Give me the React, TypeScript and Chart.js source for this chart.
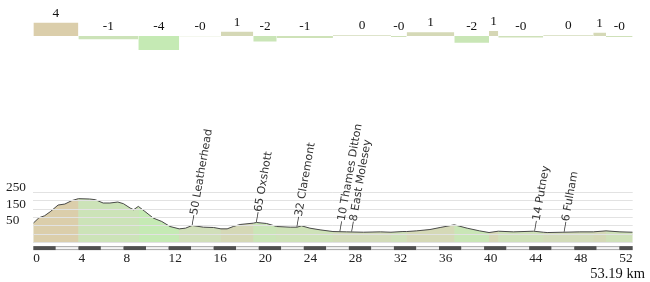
import React, { useEffect, useRef } from "react";
import { Chart, registerables } from "chart.js";

Chart.register(...registerables);

const totalKm = 53.19;

const elevKm = [
  0, 0.5, 1.0, 1.5, 2.2, 2.8, 3.4, 4.0, 5.0, 5.5, 6.2, 6.8, 7.5, 8.0, 8.6, 8.9,
  9.32, 9.9, 10.65, 11.4, 12.13, 12.95, 13.5, 14.1, 15.1, 16.0, 16.65, 17.2,
  17.75, 18.35, 19.52, 19.8, 20.7, 21.6, 22.8, 23.4, 23.8, 24.55, 25.45, 26.59,
  27.8, 29.3, 30.8, 31.74, 32.8, 33.13, 34.0, 35.2, 36.1, 37.36, 38.5, 39.6,
  40.44, 41.26, 42.6, 44.4, 45.25, 45.6, 47.0, 48.5, 49.69, 50.82, 52.06, 53.19,
];
const elevM = [
  66, 98, 110, 134, 174, 180, 200, 212, 210, 206, 186, 186, 192, 182, 156, 146,
  166, 136, 96, 76, 46, 32, 36, 52, 42, 40, 32, 32,
  46, 58, 66, 70, 64, 46, 42, 42, 50, 36, 26, 16,
  14, 12, 14, 12, 16, 16, 20, 28, 40, 56, 36, 20,
  10, 18, 14, 18, 12, 10, 12, 14, 14, 20, 14, 12,
];

const gradeStartKm = [0, 4.0, 9.32, 12.95, 16.65, 19.52, 21.6, 26.59, 31.74, 33.13, 37.36, 40.44, 41.26, 45.25, 49.69, 50.82];
const gradeValues = [3.8, -0.95, -4.0, -0.1, 1.2, -1.6, -0.6, 0.2, -0.3, 1.05, -1.9, 1.4, -0.4, 0.2, 0.95, -0.3];

const xTickValues = [0, 4, 8, 12, 16, 20, 24, 28, 32, 36, 40, 44, 48, 52];
const yGridValues = [-50, 0, 50, 100, 150, 200, 250];
const yLabelValues = [50, 150, 250];

const markerKm = [14.1, 19.8, 23.4, 27.2, 28.25, 44.5, 47.1];
const markerElev = [50, 65, 32, 10, 8, 14, 6];
const markerName = ["Leatherhead", "Oxshott", "Claremont", "Thames Ditton", "East Molesey", "Putney", "Fulham"];

const SERIF = '"Liberation Serif", "Times New Roman", serif';

function gradeColor(g: number, a = 1) {
  const t = Math.max(-1, Math.min(1, g / 4));
  const mid = [211, 221, 187];
  const pos = [219, 205, 170];
  const neg = [197, 234, 180];
  const end = t >= 0 ? pos : neg;
  const f = t >= 0 ? t : Math.sqrt(-t);
  const c = mid.map((m, i) => Math.round(m + (end[i] - m) * f));
  return `rgba(${c[0]},${c[1]},${c[2]},${a})`;
}

function gradeAt(km: number) {
  let idx = 0;
  for (let i = 0; i < gradeStartKm.length; i++) if (gradeStartKm[i] <= km) idx = i;
  return gradeValues[idx];
}

function elevAt(km: number) {
  for (let i = 1; i < elevKm.length; i++) {
    if (km <= elevKm[i]) {
      const t = (km - elevKm[i - 1]) / (elevKm[i] - elevKm[i - 1]);
      return elevM[i - 1] + t * (elevM[i] - elevM[i - 1]);
    }
  }
  return elevM[elevM.length - 1];
}

function fmtGrade(g: number) {
  return (g < 0 ? "-" : "") + Math.abs(Math.round(g));
}

const gradeLabelPlugin = {
  id: "gradeLabels",
  afterDatasetsDraw(chart: any) {
    const { ctx, scales } = chart;
    const x = scales.x, y = scales.y;
    ctx.save();
    ctx.font = `13.3px ${SERIF}`;
    ctx.fillStyle = "#111";
    ctx.textAlign = "center";
    ctx.textBaseline = "alphabetic";
    gradeValues.forEach((g, i) => {
      const k0 = gradeStartKm[i];
      const k1 = i + 1 < gradeStartKm.length ? gradeStartKm[i + 1] : totalKm;
      const cx = (x.getPixelForValue(k0) + x.getPixelForValue(k1)) / 2;
      const top = Math.min(y.getPixelForValue(g), y.getPixelForValue(0));
      ctx.fillText(fmtGrade(g), cx, top - 6);
    });
    ctx.restore();
  },
};

const scaleBarPlugin = {
  id: "scaleBar",
  afterDraw(chart: any) {
    const { ctx, chartArea } = chart;
    const x = chart.scales.x;
    const top = chartArea.bottom + 3.5;
    const h = 4;
    ctx.save();
    let n = 0;
    for (let k = 0; k < totalKm; k += 2, n++) {
      const x0 = x.getPixelForValue(k);
      const x1 = x.getPixelForValue(Math.min(k + 2, totalKm));
      if (n % 2 === 0) {
        ctx.fillStyle = "#505050";
        ctx.fillRect(x0, top, x1 - x0, h);
      } else {
        ctx.fillStyle = "#a8a8a8";
        ctx.fillRect(x0, top, x1 - x0, h);
        ctx.fillStyle = "#f4f4f4";
        ctx.fillRect(x0, top + 1, x1 - x0, h - 2);
      }
    }
    ctx.restore();
  },
};

const markerPlugin = {
  id: "markers",
  afterDraw(chart: any) {
    const { ctx } = chart;
    const x = chart.scales.x, y = chart.scales.y;
    ctx.save();
    ctx.font = '11px "DejaVu Sans", sans-serif';
    ctx.fillStyle = "#333";
    ctx.textAlign = "left";
    ctx.textBaseline = "middle";
    markerKm.forEach((km, i) => {
      const px = x.getPixelForValue(km);
      const py = y.getPixelForValue(elevAt(km));
      ctx.save();
      ctx.translate(px, py);
      ctx.rotate((-80 * Math.PI) / 180);
      ctx.fillText(`\u2014${markerElev[i]} ${markerName[i]}`, 0, 0);
      ctx.restore();
    });
    ctx.restore();
  },
};

const totalPlugin = {
  id: "totalLabel",
  afterDraw(chart: any) {
    const { ctx } = chart;
    ctx.save();
    ctx.font = `14.5px ${SERIF}`;
    ctx.fillStyle = "#111";
    ctx.textAlign = "right";
    ctx.textBaseline = "middle";
    ctx.fillText(`${totalKm.toFixed(2)} km`, 645, chart.height - 8);
    ctx.restore();
  },
};

export default function App() {
  const topRef = useRef<HTMLCanvasElement>(null);
  const mainRef = useRef<HTMLCanvasElement>(null);

  useEffect(() => {
    document.body.style.margin = "0";
    Chart.defaults.font.family = SERIF;

    const top = new Chart(topRef.current as HTMLCanvasElement, {
      type: "line",
      data: {
        datasets: [
          {
            data: [
              ...gradeStartKm.map((k, i) => ({ x: k, y: gradeValues[i] })),
              { x: totalKm, y: gradeValues[gradeValues.length - 1] },
            ],
            stepped: "before",
            fill: "origin",
            borderWidth: 0,
            borderColor: "rgba(0,0,0,0)",
            pointRadius: 0,
            backgroundColor: gradeColor(0),
            segment: {
              backgroundColor: (c: any) => gradeColor(c.p0.parsed.y),
            },
          } as any,
        ],
      },
      options: {
        animation: false,
        responsive: false,
        layout: { padding: { left: 33.3, right: 17.3, top: 15, bottom: 3 } },
        scales: {
          x: { type: "linear", min: 0, max: totalKm, display: false },
          y: { min: -6, max: 6, display: false },
        },
        plugins: { legend: { display: false }, tooltip: { enabled: false } },
      },
      plugins: [gradeLabelPlugin],
    });

    const elevPoints = elevKm.map((k, i) => ({ x: k, y: elevM[i] }));

    const main = new Chart(mainRef.current as HTMLCanvasElement, {
      type: "line",
      data: {
        datasets: [
          {
            data: elevPoints,
            borderColor: "#4a4a4a",
            borderWidth: 1,
            pointRadius: 0,
            tension: 0,
            fill: "start",
            backgroundColor: gradeColor(0),
            segment: {
              backgroundColor: (c: any) =>
                gradeColor(gradeAt((c.p0.parsed.x + c.p1.parsed.x) / 2)),
            },
          } as any,
          {
            data: elevPoints,
            borderColor: "rgba(0,0,0,0)",
            borderWidth: 0,
            pointRadius: 0,
            tension: 0,
            fill: "start",
            backgroundColor: gradeColor(0),
          } as any,
        ],
      },
      options: {
        animation: false,
        responsive: false,
        layout: { padding: { left: 6, right: 17.3, top: 132.3, bottom: 0 } },
        scales: {
          x: {
            type: "linear",
            min: 0,
            max: totalKm,
            afterBuildTicks: (s: any) => {
              s.ticks = xTickValues.map((v) => ({ value: v }));
            },
            afterFit: (s: any) => {
              s.height = 39.4;
            },
            grid: { display: false, drawTicks: false },
            border: { display: false },
            ticks: {
              align: "start",
              padding: 8,
              color: "#222",
              font: { size: 13.3 },
              autoSkip: false,
              maxRotation: 0,
            },
          },
          y: {
            min: -50,
            max: 250,
            afterBuildTicks: (s: any) => {
              s.ticks = yGridValues.map((v) => ({ value: v }));
            },
            afterFit: (s: any) => {
              s.width = 27.3;
            },
            grid: { color: "#e2e2e2", drawTicks: false, z: 1 },
            border: { display: false },
            ticks: {
              crossAlign: "far",
              labelOffset: -5,
              padding: 0,
              autoSkip: false,
              color: "#222",
              font: { size: 13.3 },
              callback: (v: any) => (yLabelValues.includes(Number(v)) ? String(v) : ""),
            },
          },
        } as any,
        plugins: { legend: { display: false }, tooltip: { enabled: false } },
      },
      plugins: [scaleBarPlugin, markerPlugin, totalPlugin],
    });

    return () => {
      top.destroy();
      main.destroy();
    };
  }, []);

  return (
    <div style={{ position: "relative", width: 650, height: 282, background: "#fff" }}>
      <canvas ref={topRef} width={650} height={60} style={{ position: "absolute", left: 0, top: 0 }} />
      <canvas ref={mainRef} width={650} height={222} style={{ position: "absolute", left: 0, top: 60 }} />
    </div>
  );
}
